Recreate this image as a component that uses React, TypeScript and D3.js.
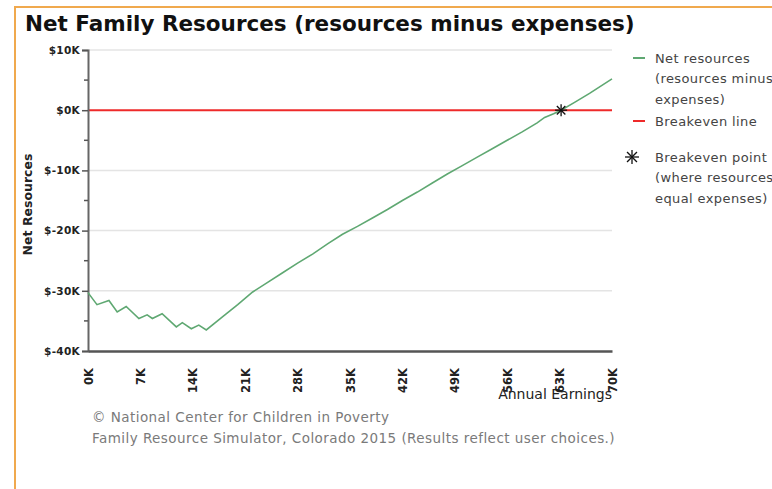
import React, {useEffect, useRef} from 'react';
import * as d3 from 'd3';

// Annual earnings (thousands of dollars) and net resources (thousands of dollars)
const earnings = [
  0, 1.2, 2.8, 3.9, 5.1, 6.8, 7.9, 8.6, 9.9, 11.8, 12.6, 13.8, 14.8, 15.8, 18,
  20, 22, 24, 26, 28, 30, 32, 34, 36, 38, 40, 42, 44, 46, 48, 50, 52, 54, 56,
  58, 60, 61, 62.2, 63.2, 65, 67, 70,
];
const netResources = [
  -30.3, -32.3, -31.6, -33.5, -32.6, -34.6, -34.0, -34.6, -33.8, -36.0, -35.3,
  -36.3, -35.7, -36.5, -34.3, -32.3, -30.2, -28.6, -27.0, -25.4, -23.9, -22.2,
  -20.6, -19.3, -17.9, -16.5, -15.0, -13.6, -12.1, -10.6, -9.2, -7.8, -6.4,
  -5.0, -3.6, -2.1, -1.2, -0.6, 0, 1.3, 2.8, 5.2,
];
const breakeven = {earnings: 63.2, value: 0};

const xTicks = [0, 7, 14, 21, 28, 35, 42, 49, 56, 63, 70];
const yTicks = [10, 0, -10, -20, -30, -40];
const yMinorTicks = [5, -5, -15, -25, -35];

const legendItems = [
  {kind: 'line', color: '#5fa872', lines: ['Net resources', '(resources minus', 'expenses)']},
  {kind: 'line', color: '#ee2a2a', lines: ['Breakeven line']},
  {kind: 'star', color: '#111', lines: ['Breakeven point', '(where resources', 'equal expenses)']},
];

const footer = [
  '\u00A9 National Center for Children in Poverty',
  'Family Resource Simulator, Colorado 2015 (Results reflect user choices.)',
];

const FONT = 'DejaVu Sans, Verdana, sans-serif';

export default function App() {
  const svgRef = useRef<SVGSVGElement>(null);

  useEffect(() => {
    if (!svgRef.current) return;
    const svg = d3.select(svgRef.current);
    svg.selectAll('*').remove();

    const plot = {left: 88, right: 612, top: 50, bottom: 351};

    const x = d3.scaleLinear().domain([0, 70]).range([plot.left, plot.right]);
    const y = d3.scaleLinear().domain([-40, 10]).range([plot.bottom, plot.top]);

    // Orange frame
    svg
      .append('rect')
      .attr('x', 15)
      .attr('y', 7)
      .attr('width', 800)
      .attr('height', 520)
      .attr('fill', 'white')
      .attr('stroke', '#f0a94e')
      .attr('stroke-width', 2);

    // Title
    svg
      .append('text')
      .attr('x', 25)
      .attr('y', 31)
      .attr('font-family', FONT)
      .attr('font-weight', 'bold')
      .attr('font-size', 21.5)
      .attr('fill', '#111')
      .text('Net Family Resources (resources minus expenses)');

    // Grid lines
    svg
      .append('g')
      .selectAll('line')
      .data(yTicks.filter((d) => d !== 0 && d !== -40))
      .join('line')
      .attr('x1', plot.left)
      .attr('x2', plot.right)
      .attr('y1', (d) => y(d))
      .attr('y2', (d) => y(d))
      .attr('stroke', '#e4e4e4')
      .attr('stroke-width', 1.5);

    // Breakeven line
    svg
      .append('line')
      .attr('x1', plot.left)
      .attr('x2', plot.right)
      .attr('y1', y(0))
      .attr('y2', y(0))
      .attr('stroke', '#ee2a2a')
      .attr('stroke-width', 2);

    // Y axis
    const yAxis = svg
      .append('g')
      .attr('transform', `translate(${plot.left},0)`)
      .call(
        d3
          .axisLeft(y)
          .tickValues(yTicks)
          .tickSize(6)
          .tickPadding(2)
          .tickFormat((d) => `$${d}K`),
      );
    yAxis.select('.domain').attr('stroke', '#666').attr('stroke-width', 2);
    yAxis.selectAll('.tick line').attr('stroke', '#555').attr('stroke-width', 1.5);
    yAxis
      .selectAll('.tick text')
      .attr('font-family', FONT)
      .attr('font-weight', 'bold')
      .attr('font-size', 10.5)
      .attr('letter-spacing', 0.3)
      .attr('fill', '#222');

    svg
      .append('g')
      .selectAll('line')
      .data(yMinorTicks)
      .join('line')
      .attr('x1', plot.left - 4)
      .attr('x2', plot.left)
      .attr('y1', (d) => y(d))
      .attr('y2', (d) => y(d))
      .attr('stroke', '#555')
      .attr('stroke-width', 1.5);

    // X axis
    const xAxis = svg
      .append('g')
      .attr('transform', `translate(0,${plot.bottom})`)
      .call(
        d3
          .axisBottom(x)
          .tickValues(xTicks)
          .tickSize(0)
          .tickFormat((d) => `${d}K`),
      );
    xAxis.select('.domain').attr('stroke', '#555').attr('stroke-width', 2.5);
    xAxis
      .selectAll('.tick text')
      .attr('font-family', FONT)
      .attr('font-weight', 'bold')
      .attr('font-size', 11.5)
      .attr('fill', '#222')
      .attr('text-anchor', 'end')
      .attr('dy', '0.35em')
      .attr('transform', 'translate(0,17) rotate(-90)')
      .attr('y', 0)
      .attr('x', 0);

    // Axis titles
    svg
      .append('text')
      .attr('x', plot.right)
      .attr('y', 399)
      .attr('text-anchor', 'end')
      .attr('font-family', FONT)
      .attr('font-size', 14)
      .attr('fill', '#222')
      .text('Annual Earnings');

    svg
      .append('text')
      .attr('transform', `translate(32,${(plot.top + plot.bottom) / 2 + 4}) rotate(-90)`)
      .attr('text-anchor', 'middle')
      .attr('font-family', FONT)
      .attr('font-weight', 'bold')
      .attr('font-size', 12.5)
      .attr('fill', '#222')
      .text('Net Resources');

    // Net resources line
    const points = earnings.map((e, i) => [e, netResources[i]] as [number, number]);
    const line = d3
      .line<[number, number]>()
      .x((d) => x(d[0]))
      .y((d) => y(d[1]));
    svg
      .append('path')
      .datum(points)
      .attr('fill', 'none')
      .attr('stroke', '#5fa872')
      .attr('stroke-width', 1.6)
      .attr('d', line);

    // Asterisk marker
    const star = (g: d3.Selection<SVGGElement, unknown, null, undefined>, r: number) => {
      [0, 45, 90, 135].forEach((a) => {
        g.append('line')
          .attr('x1', -r)
          .attr('x2', r)
          .attr('y1', 0)
          .attr('y2', 0)
          .attr('transform', `rotate(${a})`)
          .attr('stroke', '#111')
          .attr('stroke-width', 1.3);
      });
    };
    const bp = svg
      .append('g')
      .attr('transform', `translate(${x(breakeven.earnings)},${y(breakeven.value)})`);
    star(bp, 6);

    // Legend
    const legend = svg
      .append('g')
      .attr('font-family', FONT)
      .attr('font-size', 13)
      .attr('letter-spacing', 0.4)
      .attr('fill', '#444');
    const rowGap = [63, 36, 0];
    let ly = 58;
    legendItems.forEach((item, k) => {
      if (item.kind === 'line') {
        legend
          .append('line')
          .attr('x1', 633)
          .attr('x2', 645)
          .attr('y1', ly)
          .attr('y2', ly)
          .attr('stroke', item.color)
          .attr('stroke-width', 2);
      } else {
        const g = legend.append('g').attr('transform', `translate(632,${ly})`);
        star(g, 7);
      }
      item.lines.forEach((t, i) => {
        legend
          .append('text')
          .attr('x', 655)
          .attr('y', ly + i * 20.5)
          .attr('dy', '0.35em')
          .text(t);
      });
      ly += rowGap[k];
    });

    // Footer
    footer.forEach((t, i) => {
      svg
        .append('text')
        .attr('x', 92)
        .attr('y', 417 + i * 21)
        .attr('dy', '0.35em')
        .attr('font-family', FONT)
        .attr('font-size', 13.5)
        .attr('letter-spacing', 0.45)
        .attr('fill', '#7a7a7a')
        .text(t);
    });
  }, []);

  return (
    <div style={{position: 'absolute', left: 0, top: 0, width: 772, height: 489, overflow: 'hidden'}}>
      <svg ref={svgRef} width={772} height={489} style={{display: 'block'}} />
    </div>
  );
}
